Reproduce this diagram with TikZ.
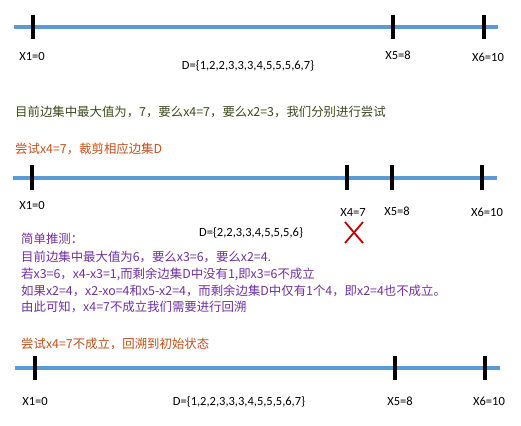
\documentclass[tikz,border=0pt]{standalone}
\usepackage{fontspec}
\setmainfont{Carlito}
\newfontfamily\cjk{Noto Sans CJK SC}
\definecolor{axisblue}{HTML}{5B9BD5}
\definecolor{olivetext}{HTML}{3A4A1A}
\definecolor{rusttext}{HTML}{C0501A}
\definecolor{violettext}{HTML}{7030A0}
\definecolor{crossred}{HTML}{C00000}
\begin{document}
\begin{tikzpicture}[x=1pt,y=-1pt,
    axis/.style={axisblue, line width=3.5pt},
    tick/.style={black, line width=3.2pt},
    lbl/.style={font=\fontsize{12.5}{14}\selectfont, inner sep=0pt},
    note/.style={font=\cjk\fontsize{12.4}{15}\selectfont, inner sep=0pt, anchor=west}]
    \useasboundingbox (0,0) rectangle (521,425);

    % Premier axe : etat initial
    \draw[axis] (14,27) -- (498,27);
    \draw[tick] (33,15) -- (33,39);
    \draw[tick] (393,15) -- (393,39);
    \draw[tick] (484,15) -- (484,39);
    \node[lbl] (a1) at (32,56) {X1=0};
    \node[lbl] (a5) at (398,55) {X5=8};
    \node[lbl] (a6) at (488,57) {X6=10};
    \node[lbl] (ad) at (248,66) {D=\{1,2,2,3,3,3,4,5,5,5,6,7\}};

    % Commentaires
    \node[note, text=olivetext] (t1) at (15,112) {目前边集中最大值为，7，要么x4=7，要么x2=3，我们分别进行尝试};
    \node[note, text=rusttext] (t2) at (15,149) {尝试x4=7，裁剪相应边集D};

    % Deuxieme axe : essai x4=7
    \draw[axis] (13,178) -- (497,178);
    \draw[tick] (32,165) -- (32,190);
    \draw[tick] (347,165) -- (347,190);
    \draw[tick] (392,165) -- (392,190);
    \draw[tick] (482,165) -- (482,190);
    \node[lbl] (b1) at (32,205) {X1=0};
    \node[lbl] (b4) at (353,212) {X4=7};
    \node[lbl] (b5) at (397,211) {X5=8};
    \node[lbl] (b6) at (487,212) {X6=10};
    \node[lbl] (bd) at (251,233) {D=\{2,2,3,3,4,5,5,5,6\}};

    % Croix rouge
    \draw[crossred, line width=1.8pt] (345,222) -- (363,243);
    \draw[crossred, line width=1.8pt] (363,222) -- (345,243);

    % Raisonnement
    \node[note, text=violettext] (r0) at (21,239) {简单推测：};
    \node[note, text=violettext] (r1) at (21,257) {目前边集中最大值为6，要么x3=6，要么x2=4.};
    \node[note, text=violettext] (r2) at (21,274) {若x3=6，x4-x3=1,而剩余边集D中没有1,即x3=6不成立};
    \node[note, text=violettext] (r3) at (21,291) {如果x2=4，x2-xo=4和x5-x2=4，而剩余边集D中仅有1个4，即x2=4也不成立。};
    \node[note, text=violettext] (r4) at (21,307) {由此可知，x4=7不成立我们需要进行回溯};

    \node[note, text=rusttext] (t3) at (21,344) {尝试x4=7不成立，回溯到初始状态};

    % Troisieme axe : retour a l'etat initial
    \draw[axis] (15,368) -- (500,368);
    \draw[tick] (35,356) -- (35,380);
    \draw[tick] (395,356) -- (395,380);
    \draw[tick] (485,356) -- (485,380);
    \node[lbl] (c1) at (35,401) {X1=0};
    \node[lbl] (c5) at (400,401) {X5=8};
    \node[lbl] (c6) at (489,401) {X6=10};
    \node[lbl] (cd) at (239,402) {D=\{1,2,2,3,3,3,4,5,5,5,6,7\}};

\end{tikzpicture}
\end{document}
